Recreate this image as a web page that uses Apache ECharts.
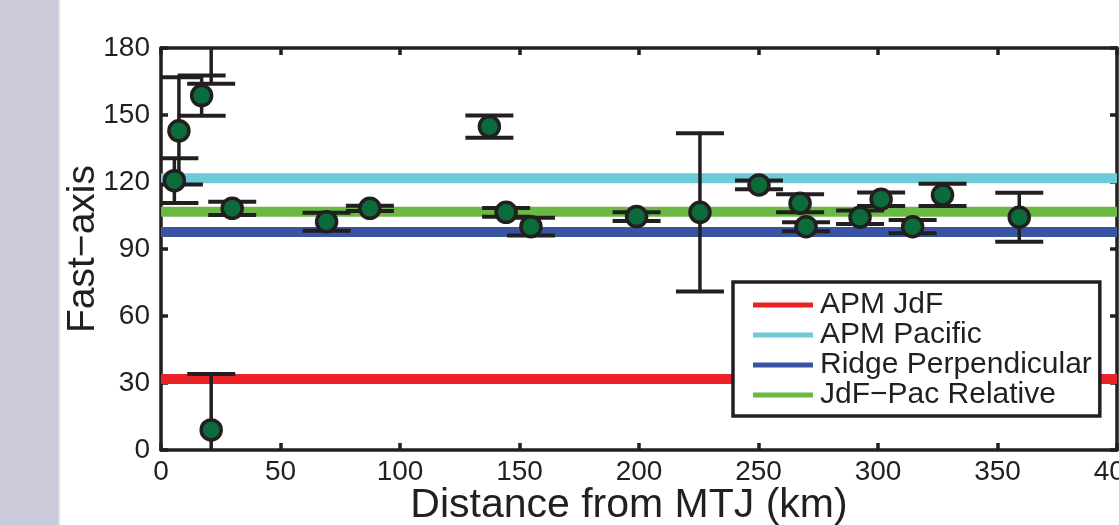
<!DOCTYPE html>
<html>
<head>
<meta charset="utf-8">
<script src="https://cdn.jsdelivr.net/npm/echarts@6/dist/echarts.min.js"></script>
<style>
  html, body { margin: 0; padding: 0; background: #ffffff; }
  #chart { width: 1119px; height: 525px; }
</style>
</head>
<body>
<div id="chart"></div>
<script>
// ---- data ----
const distanceKm = [5.6, 7.5, 17.0, 21.0, 29.8, 69.3, 87.4, 137.4, 144.4, 154.8, 199.0, 225.5, 250.2, 267.4, 269.9, 292.5, 301.3, 314.5, 327.0, 359.1];
const fastAxis   = [120.6, 142.9, 158.7, 9.0, 108.2, 102.2, 108.2, 144.8, 106.4, 100.0, 104.5, 106.4, 118.7, 110.5, 100.0, 104.2, 112.3, 100.0, 114.2, 104.2];
const fastErr    = [10, 24, 9, 25, 3, 4, 1.2, 5, 2, 4, 2, 35.4, 2, 4, 2, 3, 3, 3, 5, 11];
// the 21 km measurement wraps around 180 degrees: its error bar reappears at the top
const wrappedDist = [21.0];
const wrappedFast = [189.0];
const wrappedErr  = [25];

const refNames  = ['APM JdF', 'APM Pacific', 'Ridge Perpendicular', 'JdF\u2212Pac Relative'];
const refValues = [31.8, 121.7, 97.6, 106.7];
const refColors = ['#ed2227', '#6ccad9', '#3a54a4', '#6ab945'];

const xTicks = [0, 50, 100, 150, 200, 250, 300, 350, 400];
const yTicks = [0, 30, 60, 90, 120, 150, 180];

// ---- chart ----
const ink = '#231f20';
const font = 'Liberation Sans, Arial, Helvetica, sans-serif';
const chart = echarts.init(document.getElementById('chart'), null, { renderer: 'canvas' });

const errData = distanceKm.map((d, i) => [d, fastAxis[i] - fastErr[i], fastAxis[i] + fastErr[i]])
  .concat(wrappedDist.map((d, i) => [d, wrappedFast[i] - wrappedErr[i], wrappedFast[i] + wrappedErr[i]]));

const axisCommon = {
  min: 0,
  axisLine: { show: true, onZero: false, lineStyle: { color: ink, width: 3.5 } },
  axisTick: { show: true, inside: true, length: 7, lineStyle: { color: ink, width: 3.5 } },
  splitLine: { show: false }
};

const refSeries = refNames.map((name, i) => ({
  name: name,
  type: 'line',
  data: [[xTicks[0], refValues[i]], [xTicks[xTicks.length - 1], refValues[i]]],
  symbol: 'none',
  color: refColors[i],
  itemStyle: { color: refColors[i] },
  lineStyle: { color: refColors[i], width: 10, cap: 'butt' },
  silent: true,
  z: 2
}));

chart.setOption({
  animation: false,
  backgroundColor: '#ffffff',
  graphic: [{
    type: 'rect', left: 0, top: 0, z: -10,
    shape: { width: 58, height: 525 },
    style: { fill: '#cacadb' }
  }, {
    type: 'rect', left: 58, top: 0, z: -10,
    shape: { width: 2, height: 525 },
    style: { fill: '#dedeea' }
  }],
  grid: { left: 161, right: 2, top: 48, bottom: 75, containLabel: false, outerBoundsMode: 'none' },
  legend: {
    data: refNames,
    orient: 'vertical',
    left: 733, top: 282,
    icon: 'rect',
    itemWidth: 60, itemHeight: 5,
    itemGap: 0,
    padding: [8, 8, 6, 20],
    backgroundColor: '#ffffff',
    borderColor: ink, borderWidth: 3.5,
    selectedMode: false,
    textStyle: { fontFamily: font, fontSize: 30, color: ink, lineHeight: 29.5, padding: [0, 0, 0, 2] }
  },
  xAxis: [
    Object.assign({}, axisCommon, {
      type: 'value', position: 'bottom', max: 400, interval: 50,
      name: 'Distance from MTJ (km)', nameLocation: 'middle', nameGap: 35, nameMoveOverlap: false,
      nameTextStyle: { fontFamily: font, fontSize: 41, color: ink, padding: [0, 20, 0, 0] },
      axisLabel: { show: true, margin: 8, fontFamily: font, fontSize: 28, color: ink }
    }),
    Object.assign({}, axisCommon, {
      type: 'value', position: 'top', max: 400, interval: 50,
      axisLabel: { show: false }
    })
  ],
  yAxis: [
    Object.assign({}, axisCommon, {
      type: 'value', position: 'left', max: 180, interval: 30,
      name: 'Fast\u2212axis', nameLocation: 'middle', nameGap: 58, nameRotate: 90, nameMoveOverlap: false,
      nameTextStyle: { fontFamily: font, fontSize: 39, color: ink },
      axisLabel: { show: true, margin: 11, fontFamily: font, fontSize: 28, color: ink }
    }),
    Object.assign({}, axisCommon, {
      type: 'value', position: 'right', max: 180, interval: 30,
      axisLabel: { show: false }
    })
  ],
  series: refSeries.concat([
    {
      name: 'errors',
      type: 'custom',
      clip: true,
      z: 5,
      silent: true,
      data: errData,
      renderItem: function (params, api) {
        const x = api.value(0), lo = api.value(1), hi = api.value(2);
        const pLo = api.coord([x, lo]);
        const pHi = api.coord([x, hi]);
        const hw = 24;
        const st = { stroke: ink, lineWidth: 4, fill: null };
        return {
          type: 'group',
          children: [
            { type: 'line', shape: { x1: pHi[0], y1: pHi[1], x2: pLo[0], y2: pLo[1] }, style: { stroke: ink, lineWidth: 3.5 } },
            { type: 'line', shape: { x1: pHi[0] - hw, y1: pHi[1], x2: pHi[0] + hw, y2: pHi[1] }, style: st },
            { type: 'line', shape: { x1: pLo[0] - hw, y1: pLo[1], x2: pLo[0] + hw, y2: pLo[1] }, style: st }
          ]
        };
      },
      encode: { x: 0, y: [1, 2] }
    },
    {
      name: 'measurements',
      type: 'scatter',
      z: 6,
      silent: true,
      symbol: 'circle',
      symbolSize: 20,
      data: distanceKm.map((d, i) => [d, fastAxis[i]]),
      itemStyle: { color: '#0b6b3a', borderColor: ink, borderWidth: 3.5, opacity: 1 }
    }
  ])
});
</script>
</body>
</html>
